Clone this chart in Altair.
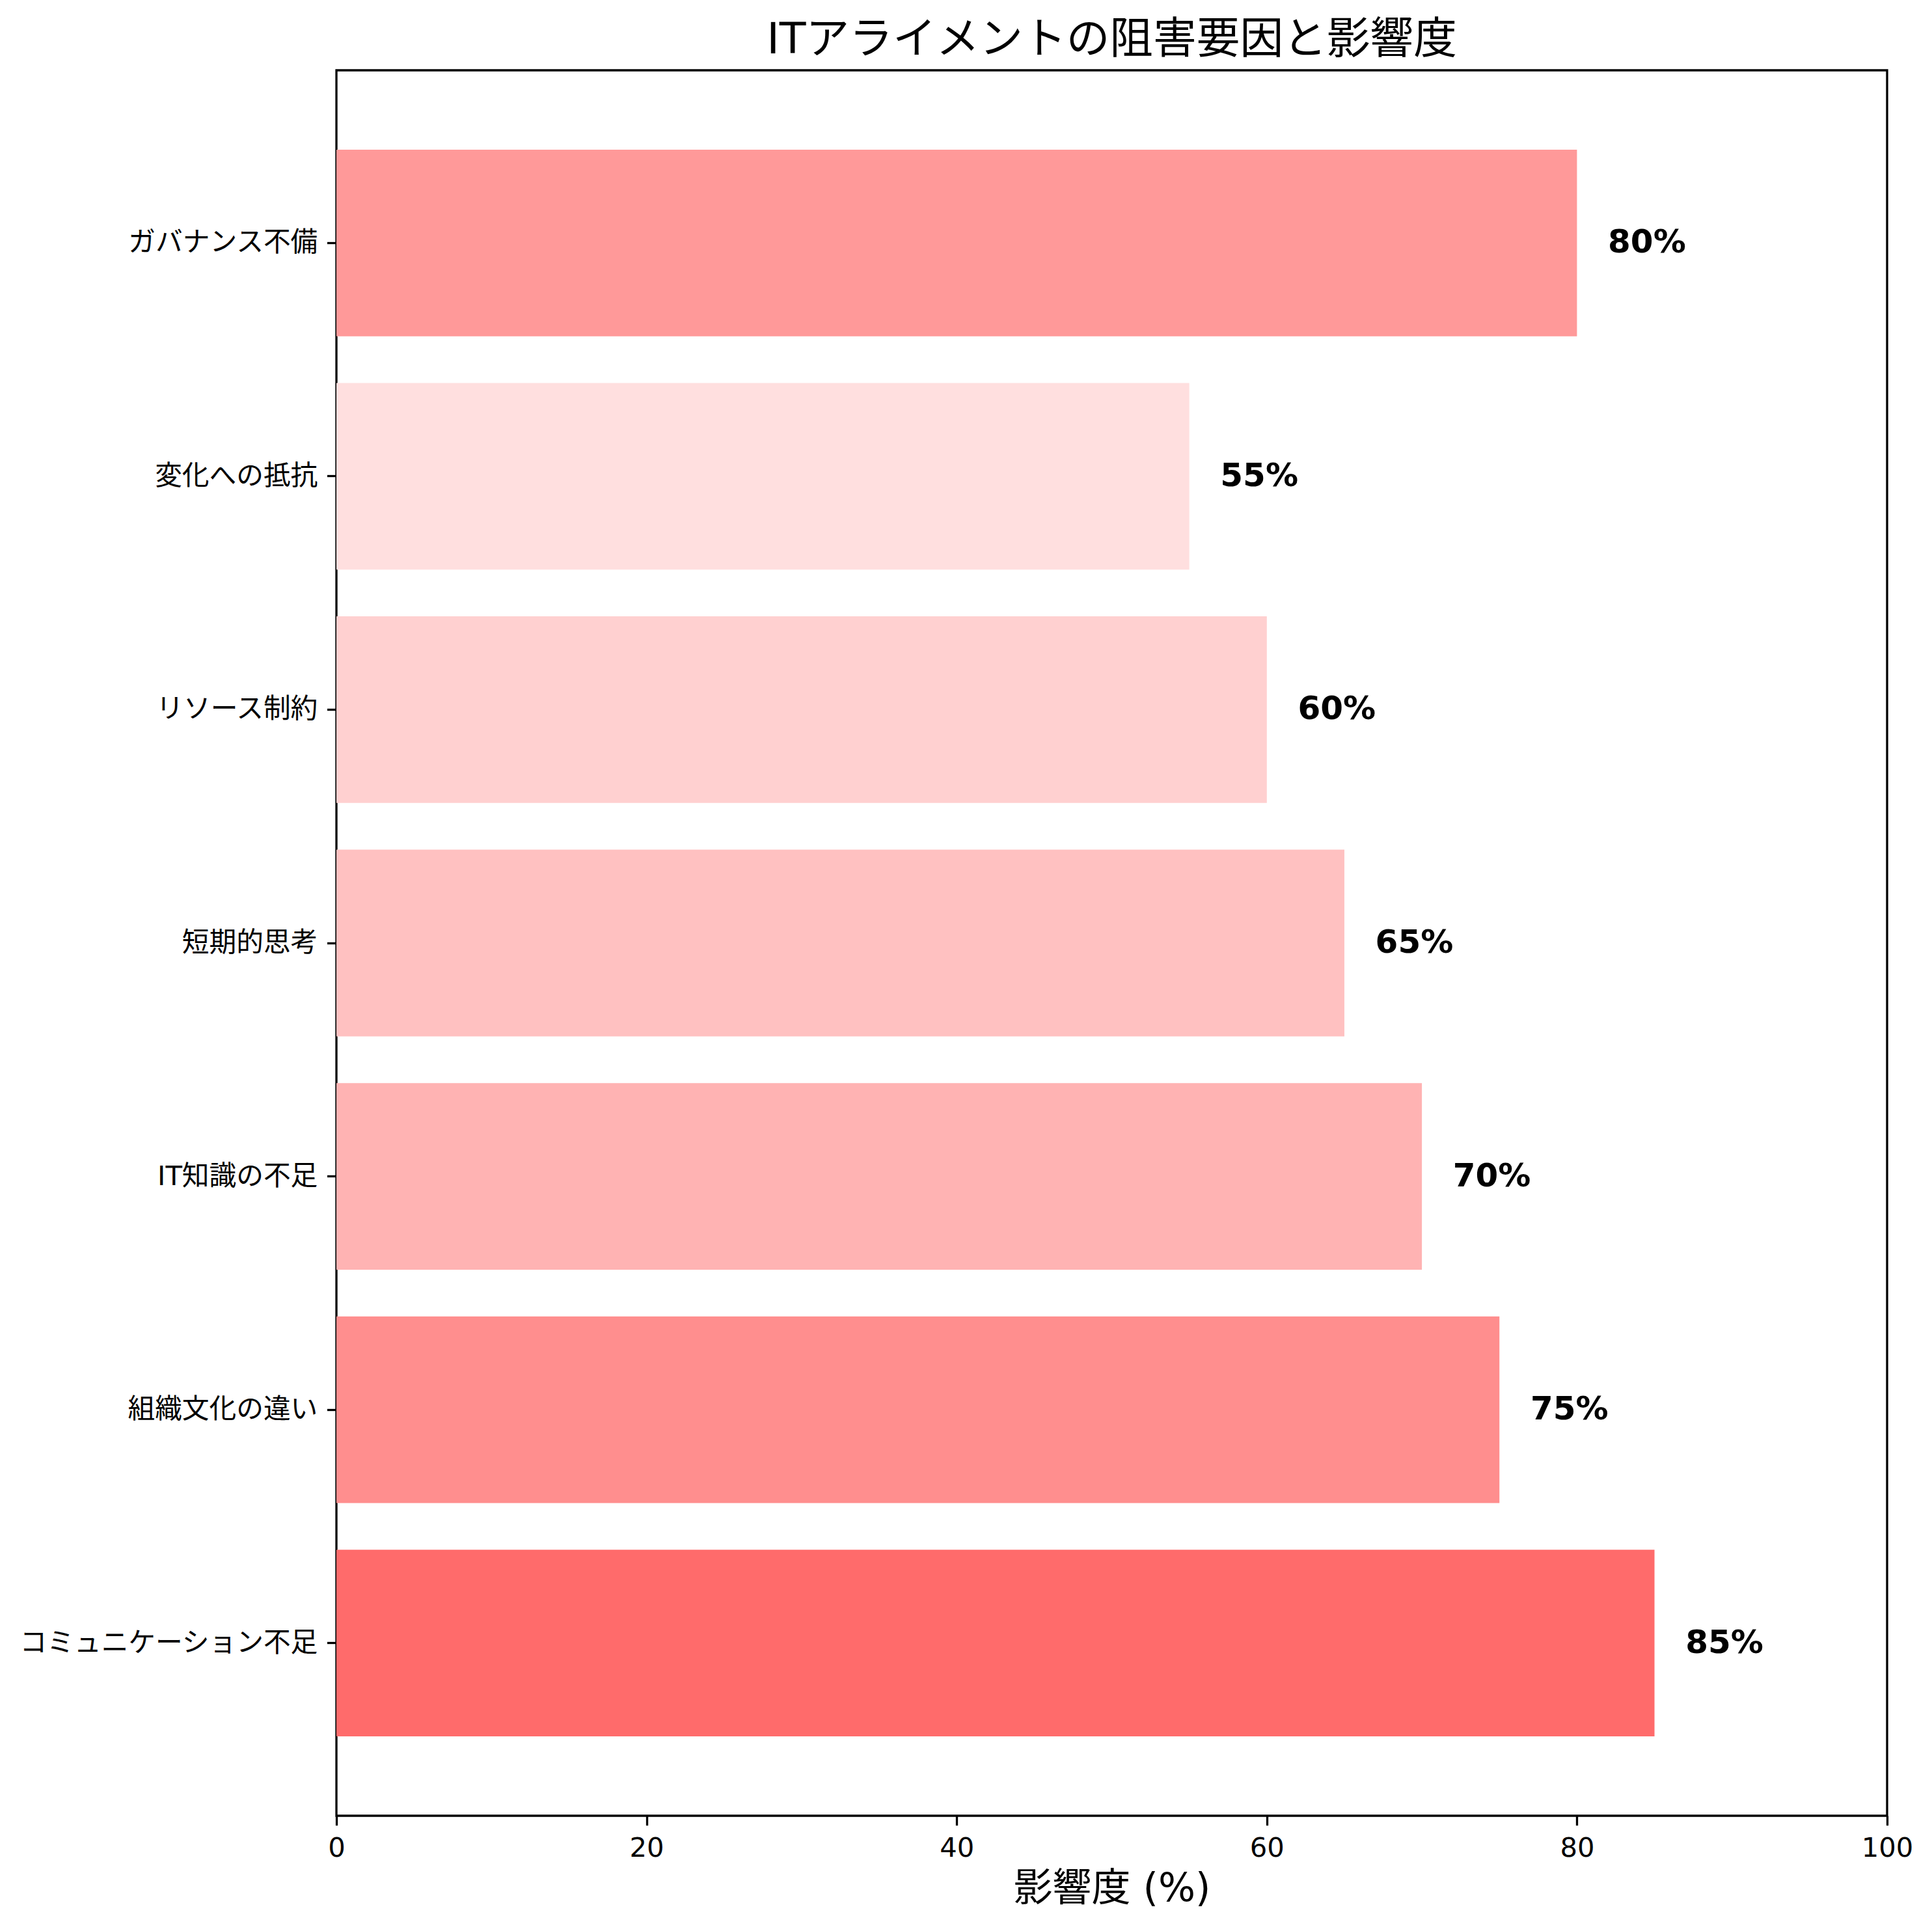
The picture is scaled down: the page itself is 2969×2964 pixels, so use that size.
import altair as alt
import pandas as pd

categories = ["ガバナンス不備", "変化への抵抗", "リソース制約", "短期的思考",
              "IT知識の不足", "組織文化の違い", "コミュニケーション不足"]
values = [80, 55, 60, 65, 70, 75, 85]
colors = ["#FF9999", "#FFDFDF", "#FFD0D0", "#FFC1C1", "#FFB3B3", "#FF8E8E", "#FF6B6B"]
labels = [f"{v}%" for v in values]

df = pd.DataFrame({"cat": categories, "val": values, "label": labels,
                   "lx": [v + 2 for v in values]})

FONT = "DejaVu Sans, Noto Sans CJK JP, sans-serif"
W, H = 2383, 2682

y_enc = alt.Y("cat:N", sort=categories, title=None,
              scale=alt.Scale(paddingInner=0.2, paddingOuter=0.34),
              axis=alt.Axis(labelFontSize=41.7, labelFont=FONT, labelColor="black",
                            tickSize=14.6, tickWidth=3.3, tickColor="black",
                            labelPadding=14.6, domain=False, labelLimit=1000))

bars = alt.Chart(df).mark_bar().encode(
    x=alt.X("val:Q", scale=alt.Scale(domain=[0, 100], nice=False, zero=True),
            title="影響度 (%)",
            axis=alt.Axis(values=[0, 20, 40, 60, 80, 100], labelFontSize=41.7,
                          labelFont=FONT, labelColor="black", tickSize=14.6,
                          tickWidth=3.3, tickColor="black", labelPadding=14.6,
                          labelFlush=False, domain=False, grid=False,
                          titleFontSize=60, titleFont=FONT, titleFontWeight="normal",
                          titleColor="black", titlePadding=13)),
    y=y_enc,
    color=alt.Color("cat:N", scale=alt.Scale(domain=categories, range=colors), legend=None),
)

text = alt.Chart(df).mark_text(align="left", baseline="middle", fontSize=50,
                               fontWeight="bold", font=FONT, color="black").encode(
    x=alt.X("lx:Q"),
    y=alt.Y("cat:N", sort=categories),
    text="label:N",
)

chart = alt.layer(bars, text).properties(
    width=W, height=H,
    title=alt.TitleParams("ITアライメントの阻害要因と影響度", fontSize=66.7, font=FONT,
                          fontWeight="normal", color="black", anchor="middle",
                          offset=12),
    autosize=alt.AutoSizeParams(type="none"),
    padding={"left": 509, "top": 100, "right": 60, "bottom": 160},
).configure_view(stroke="black", strokeWidth=3.3).configure_axis(grid=False)

chart.save("out.html", embed_options={"renderer": "svg", "actions": False})
